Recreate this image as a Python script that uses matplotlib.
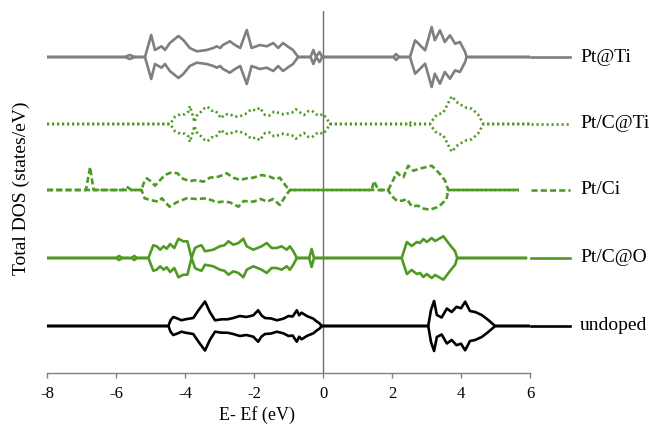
import numpy as np
import matplotlib
matplotlib.use("Agg")
import matplotlib.pyplot as plt
from matplotlib.transforms import blended_transform_factory

plt.rcParams['font.family'] = ['Liberation Serif', 'DejaVu Serif']
plt.rcParams['axes.unicode_minus'] = False

# ---------------- data (energy in eV, DOS in states/eV, arbitrary units) -------------
labels = ["Pt@Ti", "Pt/C@Ti", "Pt/Ci", "Pt/C@O", "undoped"]
offsets = [269, 202, 136, 68, 0]

E_ptti = [-8, -5.75, -5.6, -5.45, -5.16, -4.98, -4.87, -4.68, -4.58, -4.44, -4.19, -4.05, -3.86,
          -3.66, -3.37, -3.18, -3.08, -2.98, -2.9, -2.7, -2.55, -2.4, -2.21, -2.07, -1.83, -1.63,
          -1.44, -1.3, -1.16, -1.0, -0.87, -0.72, -0.36, -0.28, -0.2, -0.1, -0.02,
          2.04, 2.12, 2.2, 2.52, 2.67, 2.96, 3.15, 3.24, 3.39, 3.53, 3.68, 3.83, 3.97, 4.12, 4.16, 6.0]
dos_ptti = [0, 0, 2, 0, 0, 22, 7, 10.7, 7, 14, 21, 17, 9,
            5.7, 7, 9, 10.7, 9, 12, 15.7, 12, 9, 27, 9, 12, 10.7,
            14, 9, 14, 10, 7, 0, 0, 7, 0, 5, 0,
            0, 3, 0, 0, 16.7, 6.7, 30, 16.7, 26.7, 15, 21.7, 13.3, 15, 5, 0, 0]

E_ptcti = [-8, -4.43, -4.29, -4.14, -4.0, -3.9, -3.86, -3.77, -3.73, -3.67, -3.57, -3.47, -3.35,
           -3.22, -3.12, -3.03, -2.96, -2.84, -2.7, -2.55, -2.4, -2.26, -2.17, -2.07, -1.95, -1.83,
           -1.68, -1.55, -1.42, -1.3, -1.15, -1.0, -0.9, -0.79, -0.67, -0.55, -0.42, -0.32, -0.2,
           -0.1, 0.0, 0.12, 0.2, 2.4, 2.5, 2.6, 3.1, 3.15, 3.3, 3.48, 3.58, 3.73, 3.91, 4.12, 4.31,
           4.5, 4.65, 6.0]
dos_ptcti = [0, 0, 7.3, 9.7, 9.7, 12.3, 18, 8, 2, 8, 10.7, 15, 17.3,
             13.3, 13.3, 9.7, 5.7, 9.7, 9.7, 7.3, 7.8, 9.7, 12.3, 14.7, 13.5, 16.3,
             9, 8.5, 12.3, 11.3, 9.7, 10.7, 11.3, 14.7, 11.7, 9, 13, 13.3, 9.7,
             8.3, 10, 5, 0, 0, 2, 0, 0, 2.7, 9.3, 11, 17.7, 27.7, 21, 16.7, 15.3,
             9.3, 0, 0]

E_ptci_up = [-8, -6.87, -6.75, -6.65, -5.8, -5.69, -5.55, -5.26, -5.2, -5.11, -4.97, -4.87, -4.72,
             -4.58, -4.39, -4.22, -4.05, -3.86, -3.66, -3.47, -3.28, -3.03, -2.79, -2.6, -2.4,
             -2.21, -2.02, -1.78, -1.54, -1.39, -1.25, -1.17, -1.05, -0.96, 1.41, 1.48, 1.6, 1.89,
             1.98, 2.14, 2.24, 2.33, 2.47, 2.62, 2.77, 2.96, 3.15, 3.25, 3.39, 3.54, 3.63, 5.68]
dos_ptci_up = [0, 0, 23, 0, 0, 3.3, 0, 0, 6.7, 11.7, 8.3, 4.3, 10,
               15, 17.7, 16.7, 11, 9, 10, 8.3, 12.3, 13.3, 16.7, 12.3, 10,
               11.7, 12.3, 15, 13.3, 11, 12.3, 8.3, 3, 0, 0, 9, 0, 0,
               6, 17.7, 14.3, 12.7, 24.3, 19.3, 21, 22.7, 24.3, 21, 16, 9.3, 0, 0]
E_ptci_dn = [-8, -5.26, -5.17, -5.01, -4.77, -4.67, -4.45, -4.24, -3.95, -3.66, -3.37, -3.08, -2.9,
             -2.7, -2.45, -2.3, -2.02, -1.8, -1.62, -1.45, -1.25, -1.1, -0.96, 1.89, 1.98, 2.14,
             2.3, 2.43, 2.57, 2.76, 2.86, 3.1, 3.3, 3.44, 3.58, 3.63, 5.68]
dos_ptci_dn = [0, 0, 8.3, 10, 11.7, 8.3, 16.7, 12.3, 8.3, 9, 8.3, 12.3, 11.7,
               12.3, 16.7, 11, 11.7, 9, 11.7, 9, 15, 6.7, 0, 0, 5.7, 10.7,
               10.7, 9, 16.3, 15.7, 18.3, 19.7, 17.3, 14, 9, 0, 0]

E_ptco = [-8, -6.0, -5.91, -5.82, -5.55, -5.47, -5.39, -5.06, -4.92, -4.82, -4.72, -4.62, -4.53,
          -4.43, -4.31, -4.19, -4.05, -3.93, -3.81, -3.71, -3.62, -3.52, -3.42, -3.18, -2.99, -2.86,
          -2.74, -2.6, -2.45, -2.31, -2.21, -2.02, -1.78, -1.63, -1.49, -1.35, -1.2, -1.05, -0.96,
          -0.86, -0.76, -0.4, -0.33, -0.26, 2.28, 2.43, 2.57, 2.72, 2.81, 2.91, 3.01, 3.15, 3.25,
          3.49, 3.68, 3.83, 3.89, 5.88]
dos_ptco = [0, 0, 2, 0, 0, 2, 0, 0, 12.7, 11.7, 8.3, 11.7, 9.3,
            14, 10, 19.3, 16.7, 16.7, 0, 10, 11.7, 12.7, 6.7, 8.3, 11.7, 12.7,
            16.7, 13.3, 15, 19.3, 11.7, 8.3, 11.7, 15, 10, 10, 11.7, 8.3, 11.7,
            6.7, 0, 0, 9, 0, 0, 16, 12, 16, 15, 19, 16, 20, 17,
            21.7, 13, 6.7, 0, 0]

E_und = [-8, -4.48, -4.42, -4.34, -4.22, -4.1, -3.99, -3.76, -3.61, -3.42, -3.28, -3.13, -2.94,
         -2.77, -2.6, -2.41, -2.22, -2.02, -1.88, -1.78, -1.68, -1.5, -1.34, -1.15, -1.0, -0.88,
         -0.76, -0.69, -0.62, -0.47, -0.28, -0.19, -0.09, -0.04, 3.05, 3.13, 3.22, 3.3, 3.44,
         3.59, 3.73, 3.87, 4.0, 4.12, 4.26, 4.41, 4.6, 4.79, 4.99, 6.0]
dos_und = [0, 0, 5.7, 9, 7.5, 5.7, 6.7, 8, 15.7, 24.5, 14, 5.7, 6.7,
           6.7, 8, 10, 9, 10.7, 15.7, 10.5, 8, 7.5, 5.7, 7.3, 10, 9.5,
           15.7, 10.7, 13.3, 10, 7.3, 4.7, 2.3, 0, 0, 16, 25, 11, 8.5,
           17.5, 14, 19.2, 17.7, 24.3, 15, 14, 11, 6, 0, 0]

xticks = [-8, -6, -4, -2, 0, 2, 4, 6]

# ---------------- styles ----------------
green = "#4e9a22"
grey = "#7f7f7f"
LW = 1.9
styles = [
    dict(color=grey, lw=LW, ls="-"),
    dict(color=green, lw=LW, ls=(0, (0.8, 1.1))),
    dict(color=green, lw=LW, ls=(0, (2.3, 1.2))),
    dict(color=green, lw=LW, ls="-"),
    dict(color="black", lw=LW, ls="-"),
]

series = [
    (E_ptti, dos_ptti, E_ptti, dos_ptti),
    (E_ptcti, dos_ptcti, E_ptcti, dos_ptcti),
    (E_ptci_up, dos_ptci_up, E_ptci_dn, dos_ptci_dn),
    (E_ptco, dos_ptco, E_ptco, dos_ptco),
    (E_und, dos_und, E_und, dos_und),
]

fig = plt.figure(figsize=(6.49, 4.30), dpi=100)
ax = fig.add_axes([47 / 649, 1 - 373 / 430, 483 / 649, 362 / 430])

for (eu, du, ed, dd), off, st in zip(series, offsets, styles):
    ax.plot(eu, off + np.array(du), solid_joinstyle="round", **st)
    ax.plot(ed, off - np.array(dd), solid_joinstyle="round", **st)

ax.set_xlim(-8, 6)
ax.set_ylim(-47, 315)
ax.axvline(0, color="#6e6e6e", lw=1.0, zorder=0)

for s in ["top", "right", "left"]:
    ax.spines[s].set_visible(False)
ax.spines["bottom"].set_color("#808080")
ax.spines["bottom"].set_linewidth(1.0)
ax.set_yticks([])
ax.set_xticks(xticks)
ax.set_xticklabels([str(t) for t in xticks])
ax.tick_params(axis="x", direction="out", length=3.5, width=1.0, color="#808080",
               labelsize=12, pad=6)

ax.set_xlabel("E- Ef (eV)", fontsize=13)
ax.xaxis.set_label_coords((257 - 47) / 483, -0.092)
ax.set_ylabel("Total DOS (states/eV)", fontsize=14)
ax.yaxis.set_label_coords(-0.036, 0.51)

# legend entries aligned with each curve's baseline
trans = blended_transform_factory(ax.transAxes, ax.transData)
for lab, off, st in zip(labels, offsets, styles):
    ax.plot([1.003, 1.083], [off, off], transform=trans, clip_on=False, **st)
    ax.text(1.104, off, lab, transform=trans, fontsize=14, va="center", ha="left")

fig.savefig("out.png", dpi=100)
